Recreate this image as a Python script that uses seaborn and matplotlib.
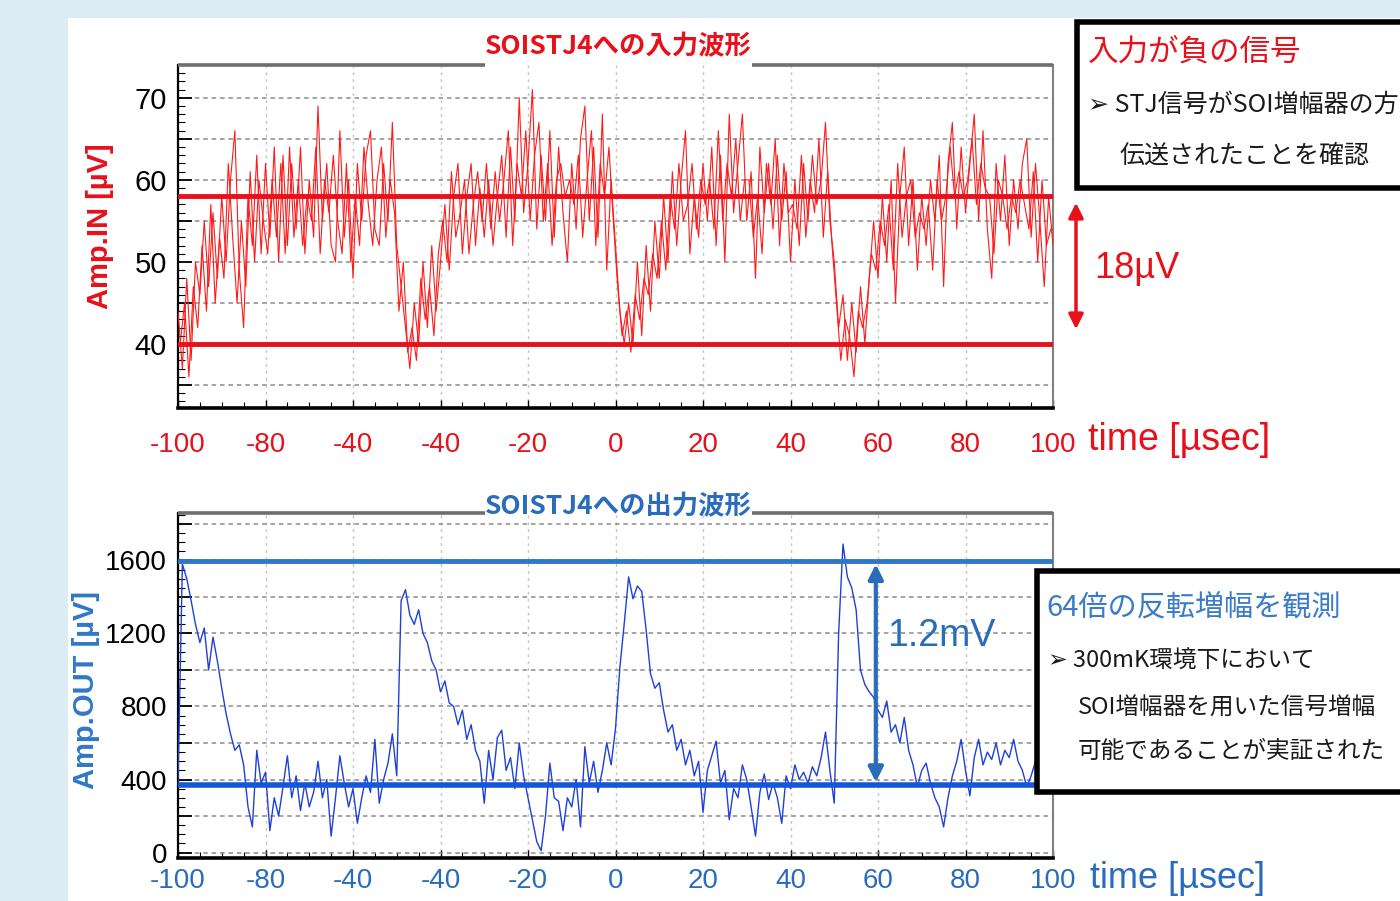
import numpy as np
import pandas as pd
import matplotlib
matplotlib.use("Agg")
import matplotlib.pyplot as plt
import seaborn as sns
from matplotlib import font_manager as fm
from matplotlib.patches import Rectangle

# ---------------- data ----------------
time_us = list(range(-100, 101))
time_half_us = [t + 0.5 for t in range(-100, 100)]
xtick_values = [-100, -80, -60, -40, -20, 0, 20, 40, 60, 80, 100]
xtick_labels = ["-100", "-80", "-40", "-40", "-20", "0", "20", "40", "60", "80", "100"]

# input waveform samples (µV) at whole microseconds
amp_in = [
    44, 37, 48, 38, 50, 46, 55, 47, 56, 48,
    58, 50, 60, 66, 49, 42, 58, 52, 63, 51,
    62, 53, 64, 50, 63, 52, 62, 54, 64, 51,
    60, 53, 69, 55, 62, 52, 50, 66, 53, 60,
    48, 62, 55, 63, 66, 54, 52, 62, 55, 67,
    52, 47, 42, 37, 45, 40, 50, 42, 52, 44,
    50, 57, 49, 58, 62, 51, 58, 62, 52, 59,
    53, 60, 52, 58, 63, 53, 64, 55, 70, 56,
    62, 71, 54, 63, 55, 66, 53, 64, 56, 50,
    62, 54, 65, 69, 55, 64, 53, 68, 49, 60,
    52, 44, 40, 45, 40, 50, 41, 52, 44, 55,
    48, 58, 50, 61, 52, 60, 66, 51, 58, 53,
    62, 55, 64, 52, 63, 50, 68, 56, 62, 68,
    55, 61, 48, 64, 56, 62, 54, 63, 55, 61,
    50, 60, 52, 62, 55, 63, 57, 60, 67, 55,
    50, 42, 46, 38, 45, 39, 47, 40, 48, 55,
    48, 58, 50, 60, 45, 58, 64, 52, 60, 49,
    58, 52, 60, 55, 63, 47, 62, 67, 54, 64,
    56, 62, 68, 55, 66, 54, 48, 62, 55, 63,
    52, 60, 54, 62, 65, 53, 62, 55, 47, 58,
    52,
]

# input waveform samples (µV) at half microseconds (second sweep of the dense trace)
amp_in_half = [
    40, 45, 36, 47, 42, 52, 44, 57, 45, 53,
    48, 62, 53, 45, 55, 47, 61, 50, 60, 55,
    51, 60, 53, 62, 51, 64, 53, 60, 52, 58,
    55, 64, 51, 60, 56, 63, 55, 51, 62, 50,
    58, 52, 64, 57, 52, 60, 64, 53, 60, 56,
    44, 50, 39, 42, 38, 48, 43, 47, 41, 51,
    55, 50, 61, 53, 56, 60, 51, 57, 61, 55,
    62, 54, 61, 55, 60, 66, 52, 62, 58, 66,
    55, 63, 67, 55, 62, 52, 60, 62, 58, 60,
    57, 63, 53, 60, 66, 52, 62, 58, 64, 55,
    47, 41, 44, 39, 46, 43, 48, 46, 51, 48,
    55, 49, 58, 54, 62, 55, 57, 62, 54, 60,
    57, 60, 54, 66, 55, 62, 58, 65, 55, 60,
    60, 53, 58, 51, 62, 57, 65, 52, 62, 56,
    57, 54, 63, 53, 60, 56, 65, 53, 61, 52,
    45, 38, 43, 41, 36, 44, 42, 45, 51, 49,
    55, 52, 57, 49, 62, 53, 58, 60, 53, 56,
    54, 57, 49, 60, 55, 58, 64, 58, 61, 58,
    60, 65, 57, 62, 59, 58, 51, 60, 58, 54,
    58, 56, 60, 57, 54, 61, 50, 60, 52, 54,
]

# output waveform samples (µV)
amp_out = [
    380, 1580, 1500, 1380, 1250, 1150, 1230, 1000, 1180, 1050,
    900, 760, 650, 560, 590, 480, 250, 140, 560, 380,
    440, 120, 300, 200, 360, 530, 300, 420, 230, 380,
    250, 330, 500, 300, 400, 90, 300, 530, 380, 250,
    350, 160, 300, 420, 330, 620, 270, 400, 490, 650,
    420, 1380, 1440, 1300, 1250, 1330, 1200, 1150, 1050, 1000,
    880, 940, 820, 800, 700, 780, 620, 700, 560, 500,
    270, 560, 400, 630, 670, 450, 520, 350, 600, 420,
    300, 180, 60, 10, 200, 490, 300, 280, 120, 300,
    250, 400, 140, 580, 380, 500, 330, 450, 600, 480,
    680, 1015, 1255, 1510, 1390, 1460, 1430, 1220, 980, 900,
    930, 780, 660, 700, 560, 620, 480, 560, 420, 500,
    220, 450, 530, 610, 380, 450, 180, 350, 300, 480,
    400, 250, 90, 330, 430, 290, 380, 300, 160, 420,
    350, 480, 400, 440, 380, 470, 420, 520, 660, 450,
    270, 1200, 1690, 1510, 1450, 1330, 1000, 920, 880, 850,
    780, 740, 830, 660, 700, 600, 740, 560, 480, 360,
    450, 490, 380, 300, 250, 140, 300, 420, 500, 620,
    450, 310, 520, 620, 480, 550, 510, 600, 480, 560,
    520, 620, 500, 450, 360, 420, 500, 380, 450, 400,
    420,
]

in_levels = [58, 40]          # µV, reference lines on input
out_levels = [1595, 370]      # µV, reference lines on output

# ---------------- style ----------------
sns.set_theme(style="white")
names = {f.name for f in fm.fontManager.ttflist}
NARROW = "Liberation Sans Narrow" if "Liberation Sans Narrow" in names else "Liberation Sans"
JP = ["Noto Sans CJK JP", "DejaVu Sans"]
plt.rcParams["font.family"] = [NARROW, "Noto Sans CJK JP", "DejaVu Sans"]

W, H = 1400, 901
def fx(px): return px / W
def fy(py): return 1 - py / H

RED = "#e8101a"
RED_TR = "#ff1a1a"
BLUE_TR = "#1e40d8"
BLUE_TXT = "#2a6cbc"
BLUE_UP = "#2e78c6"
BLUE_LO = "#1656d8"

fig = plt.figure(figsize=(14, 9.01), dpi=100, facecolor="#dcecf4")
fig.add_artist(Rectangle((fx(68), 0), 1 - fx(68), fy(18), transform=fig.transFigure,
                         fc="white", ec="none", zorder=-5))

ax1 = fig.add_axes([fx(178), fy(408), (1053 - 178) / W, (408 - 65) / H])
ax2 = fig.add_axes([fx(178), fy(858), (1053 - 178) / W, (858 - 513) / H])

df_in = pd.DataFrame({"t": time_us, "v": amp_in})
df_in_half = pd.DataFrame({"t": time_half_us, "v": amp_in_half})
df_out = pd.DataFrame({"t": time_us, "v": amp_out})

sns.lineplot(data=df_in, x="t", y="v", ax=ax1, color=RED_TR, lw=0.8, estimator=None, zorder=3)
sns.lineplot(data=df_in_half, x="t", y="v", ax=ax1, color=RED_TR, lw=0.8, estimator=None, zorder=3)
for lv in in_levels:
    ax1.axhline(lv, color=RED, lw=3.5, zorder=4)

sns.lineplot(data=df_out, x="t", y="v", ax=ax2, color=BLUE_TR, lw=1.0, estimator=None, zorder=3)
ax2.axhline(out_levels[0], color=BLUE_UP, lw=3.5, zorder=4)
ax2.axhline(out_levels[1], color=BLUE_LO, lw=4, zorder=4)


def style_axes(ax, ylim, ymaj, ylabels, ymin_step, tick_color, xpad, ysize):
    ax.set_facecolor("white")
    ax.set_xlim(-100, 100)
    ax.set_ylim(*ylim)
    ax.set_xlabel("")
    ax.set_ylabel("")
    ax.set_xticks(xtick_values)
    ax.set_xticklabels(xtick_labels, color=tick_color, fontsize=20)
    ax.set_xticks(np.arange(-100, 101, 5), minor=True)
    ax.set_yticks(ymaj)
    ax.set_yticklabels(ylabels, color="black", fontsize=ysize)
    ax.set_yticks(np.arange(ylim[0] - ylim[0] % ymin_step + ymin_step, ylim[1], ymin_step), minor=True)
    ax.tick_params(axis="both", which="both", direction="in", top=False, right=False,
                   bottom=True, left=True, colors="black")
    ax.tick_params(axis="y", which="major", length=10, width=1.3, pad=8)
    ax.tick_params(axis="y", which="minor", length=5, width=0.8)
    ax.tick_params(axis="x", which="major", length=6, width=1.0, pad=xpad)
    ax.tick_params(axis="x", which="minor", length=4, width=0.8)
    for lab in ax.get_xticklabels():
        lab.set_color(tick_color)
    ax.yaxis.grid(True, which="major", color="#8c8c8c", ls=(0, (3, 2.5)), lw=1.1, zorder=1)
    ax.xaxis.grid(True, which="major", color="#c4c4c4", ls=(0, (2, 3)), lw=1.0, zorder=1)
    ax.spines["left"].set_color("black"); ax.spines["left"].set_linewidth(1.6)
    ax.spines["bottom"].set_color("black"); ax.spines["bottom"].set_linewidth(2.6)
    ax.spines["right"].set_color("#808080"); ax.spines["right"].set_linewidth(1.5)
    ax.spines["top"].set_visible(False)
    # top frame with a gap for the title
    g0 = (485 - 178) / 875
    g1 = (752 - 178) / 875
    ax.plot([0, g0], [1, 1], transform=ax.transAxes, color="#6e6e6e", lw=2.6,
            clip_on=False, zorder=6, solid_capstyle="butt")
    ax.plot([g1, 1], [1, 1], transform=ax.transAxes, color="#6e6e6e", lw=2.6,
            clip_on=False, zorder=6, solid_capstyle="butt")


style_axes(ax1, (32.2, 74), [35, 40, 45, 50, 55, 60, 65, 70],
           ["", "40", "", "50", "", "60", "", "70"], 1, RED, 17, 21)
style_axes(ax2, (-30, 1860), [0, 200, 400, 600, 800, 1000, 1200, 1400, 1600, 1800],
           ["0", "", "400", "", "800", "", "1200", "", "1600", ""], 50, BLUE_TXT, 7, 20)

# titles
fig.text(fx(618), fy(47), "SOISTJ4への入力波形", color=RED, fontsize=19, fontweight="bold",
         family=JP, ha="center", va="center")
fig.text(fx(618), fy(507), "SOISTJ4への出力波形", color=BLUE_TXT, fontsize=19, fontweight="bold",
         family=JP, ha="center", va="center")

# y labels
fig.text(fx(100), fy(226), "Amp.IN [µV]", rotation=90, color=RED, fontsize=21,
         fontweight="bold", family=["Liberation Sans", "DejaVu Sans"], ha="center", va="center")
fig.text(fx(86), fy(690), "Amp.OUT [µV]", rotation=90, color="#2f78c8", fontsize=21,
         fontweight="bold", family=["Liberation Sans", "DejaVu Sans"], ha="center", va="center")

# x axis names
fig.text(fx(1088), fy(440), "time [µsec]", color=RED, fontsize=27, ha="left", va="center")
fig.text(fx(1090), fy(878), "time [µsec]", color=BLUE_TXT, fontsize=26, ha="left", va="center")

# amplitude markers
ax1.annotate("", xy=(fx(1076), fy(200)), xytext=(fx(1076), fy(332)),
             xycoords="figure fraction", textcoords="figure fraction", annotation_clip=False,
             arrowprops=dict(arrowstyle="<|-|>", color=RED, lw=2.5, mutation_scale=22))
fig.text(fx(1094), fy(268), "18µV", color=RED, fontsize=26, ha="left", va="center")

ax2.annotate("", xy=(59.5, out_levels[0]), xytext=(59.5, out_levels[1]),
             arrowprops=dict(arrowstyle="<|-|>", color=BLUE_TXT, lw=3, mutation_scale=22),
             zorder=7)
fig.text(fx(887), fy(636), "1.2mV", color=BLUE_TXT, fontsize=27, ha="left", va="center")

# note boxes
fig.add_artist(Rectangle((fx(1077), fy(188)), (1430 - 1077) / W, (188 - 22) / H,
                         transform=fig.transFigure, fc="white", ec="black", lw=4, zorder=8))
fig.text(fx(1088), fy(52), "入力が負の信号", color=RED, fontsize=22, family=JP,
         ha="left", va="center", zorder=9)
fig.text(fx(1088), fy(105), "➢ STJ信号がSOI増幅器の方", color="#1a1a1a", fontsize=18, family=JP,
         ha="left", va="center", zorder=9)
fig.text(fx(1120), fy(156), "伝送されたことを確認", color="#1a1a1a", fontsize=18, family=JP,
         ha="left", va="center", zorder=9)

fig.add_artist(Rectangle((fx(1037), fy(792)), (1430 - 1037) / W, (792 - 571) / H,
                         transform=fig.transFigure, fc="white", ec="black", lw=4, zorder=8))
fig.text(fx(1046), fy(607), "64倍の反転増幅を観測", color="#3a7cc8", fontsize=21, family=JP,
         ha="left", va="center", zorder=9)
fig.text(fx(1048), fy(660), "➢ 300mK環境下において", color="#1a1a1a", fontsize=17, family=JP,
         ha="left", va="center", zorder=9)
fig.text(fx(1078), fy(708), "SOI増幅器を用いた信号増幅", color="#1a1a1a", fontsize=17, family=JP,
         ha="left", va="center", zorder=9)
fig.text(fx(1078), fy(752), "可能であることが実証された", color="#1a1a1a", fontsize=17, family=JP,
         ha="left", va="center", zorder=9)

fig.savefig("out.png", dpi=100, facecolor=fig.get_facecolor())
